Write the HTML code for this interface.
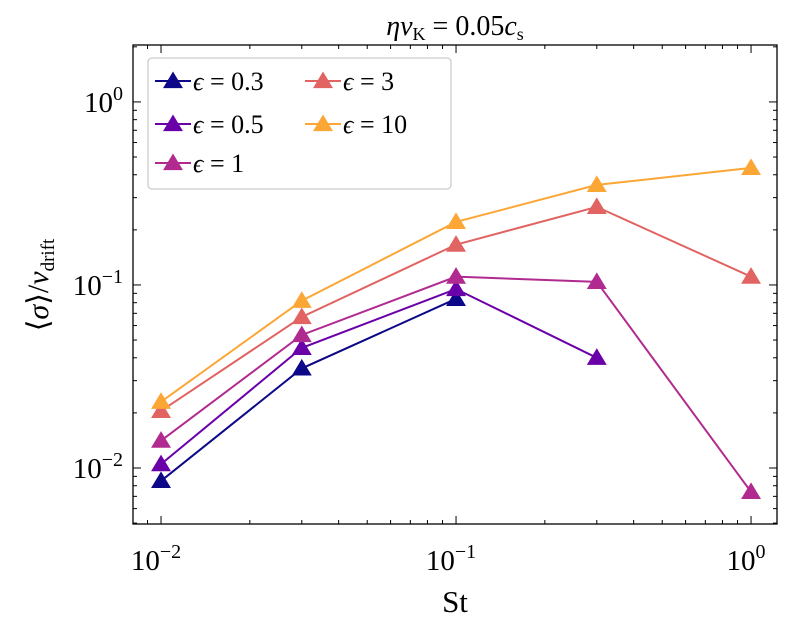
<!DOCTYPE html>
<html><head><meta charset="utf-8"><style>
body{margin:0;background:#fff;}
svg text{font-family:"Liberation Serif",serif;fill:#000;}
</style></head><body>
<svg id="chart" width="788" height="631" xmlns="http://www.w3.org/2000/svg"></svg>
<script>
const stValues = [0.01, 0.03, 0.1, 0.3, 1];
const eps03 = [0.0085, 0.035, 0.084];
const eps05 = [0.0105, 0.0453, 0.095, 0.040];
const eps1 = [0.0141, 0.0533, 0.111, 0.104, 0.0074];
const eps3 = [0.0205, 0.0668, 0.166, 0.267, 0.111];
const eps10 = [0.023, 0.082, 0.221, 0.352, 0.436];
const seriesLabels = ["0.3", "0.5", "1", "3", "10"];
const xTickExps = [-2, -1, 0];
const yTickExps = [-2, -1, 0];

const NS = "http://www.w3.org/2000/svg";
const svg = document.getElementById('chart');
const L=133,R=777,T=45,B=524;
const xmin=-2.095,xmax=0.088,ymin=-2.306,ymax=0.311;
const xs=v=>L+(Math.log10(v)-xmin)/(xmax-xmin)*(R-L);
const ys=v=>B-(Math.log10(v)-ymin)/(ymax-ymin)*(B-T);
function mk(tag,attrs,parent){const e=document.createElementNS(NS,tag);for(const k in attrs)e.setAttribute(k,attrs[k]);(parent||svg).appendChild(e);return e;}
const colors=["#0d0887","#6a00a8","#b12a90","#e16462","#fca636"];
const all=[eps03,eps05,eps1,eps3,eps10];
function tri(x,y,c,parent){const s=9.5;return mk('polygon',{points:`${x},${y-s} ${x-s*1.05},${y+s*0.75} ${x+s*1.05},${y+s*0.75}`,fill:c},parent);}
all.forEach((arr,i)=>{
  const g=mk('g',{});
  
  
  const pts=arr.map((v,j)=>xs(stValues[j])+','+ys(v)).join(' ');
  mk('polyline',{points:pts,fill:'none',stroke:colors[i],'stroke-width':2},g);
  arr.forEach((v,j)=>{const p=tri(xs(stValues[j]),ys(v),colors[i],g);
    
    });
});
const frame=mk('rect',{x:L,y:T,width:R-L,height:B-T,fill:'none',stroke:'#000','stroke-width':1.3});


for(let e=-3;e<=1;e++){for(let m=1;m<10;m++){const v=m*Math.pow(10,e);const lv=Math.log10(v);
  const len=m===1?8:4;
  if(lv>=xmin&&lv<=xmax){const x=xs(v);mk('line',{x1:x,x2:x,y1:B,y2:B-len,stroke:'#000'});mk('line',{x1:x,x2:x,y1:T,y2:T+len,stroke:'#000'});}
  if(lv>=ymin&&lv<=ymax){const y=ys(v);mk('line',{x1:L,x2:L+len,y1:y,y2:y,stroke:'#000'});mk('line',{x1:R,x2:R-len,y1:y,y2:y,stroke:'#000'});}
}}
xTickExps.forEach(e=>{const t=mk('text',{x:xs(Math.pow(10,e))-5,y:B+46,'font-size':29,'text-anchor':'middle'});
  
  t.innerHTML='10<tspan dy="-12" font-size="20">'+(e<0?'−'+(-e):e)+'</tspan>';});
yTickExps.forEach(e=>{const t=mk('text',{x:L-10,y:ys(Math.pow(10,e))+10,'font-size':29,'text-anchor':'end'});
  
  t.innerHTML='10<tspan dy="-12" font-size="20">'+(e<0?'−'+(-e):e)+'</tspan>';});
let t=mk('text',{x:455,y:612,'font-size':31,'text-anchor':'middle'});t.textContent='St';

t=mk('text',{x:0,y:0,'font-size':30,'text-anchor':'middle',transform:'translate(48,285) rotate(-90)'});
t.innerHTML='⟨<tspan font-style="italic">σ</tspan>⟩/<tspan font-style="italic">v</tspan><tspan font-size="19" dy="6">drift</tspan>';

t=mk('text',{x:455,y:35,'font-size':28,'text-anchor':'middle'});
t.innerHTML='<tspan font-style="italic">ηv</tspan><tspan font-size="18" dy="5">K</tspan><tspan dy="-5"> = 0.05</tspan><tspan font-style="italic">c</tspan><tspan font-size="18" dy="5">s</tspan>';

const lg=mk('g',{});
mk('rect',{x:148,y:58,width:303,height:131,rx:4,fill:'#fff',stroke:'#ccc','stroke-width':1.3},lg);
const pos=[[173,81],[173,124],[173,163],[323,81],[323,124]];
seriesLabels.forEach((lab,i)=>{const [x,y]=pos[i];
  const e=mk('g',{},lg);
  mk('line',{x1:x-18,x2:x+18,y1:y,y2:y,stroke:colors[i],'stroke-width':2},e);
  tri(x,y,colors[i],e);
  const tx=mk('text',{x:x+20,y:y+9,'font-size':26},e);
  tx.innerHTML='<tspan font-style="italic">ϵ</tspan> = '+lab;});
</script>
</body></html>
